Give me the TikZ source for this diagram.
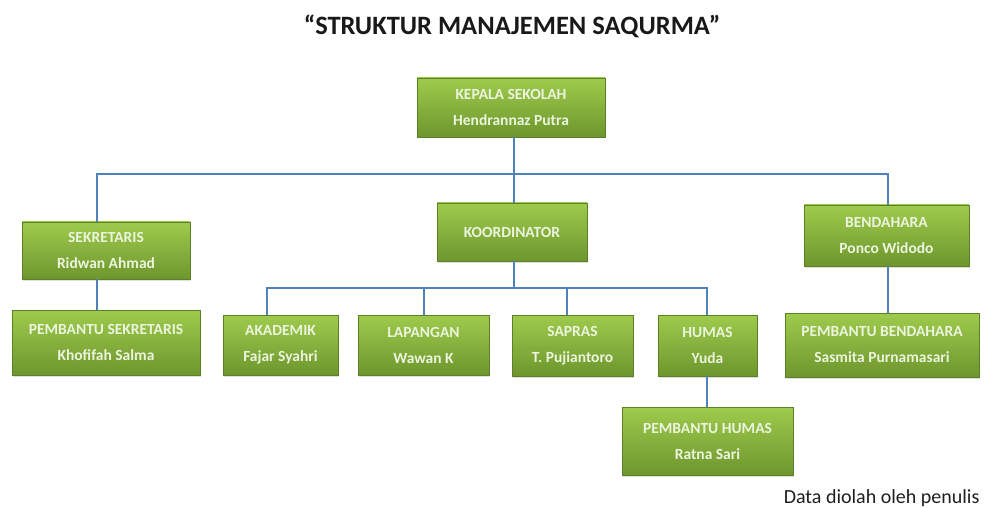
\documentclass[tikz,border=0pt]{standalone}
\usepackage{fontspec}
\setmainfont{Carlito}
\usetikzlibrary{shadows}
\definecolor{lineblue}{RGB}{79,129,189}
\definecolor{gtop}{RGB}{158,203,76}
\definecolor{gbot}{RGB}{110,150,46}
\definecolor{txtc}{RGB}{236,244,222}
\begin{document}
\begin{tikzpicture}[x=1pt,y=-1pt,
  orgbox/.style={rectangle, top color=gtop, bottom color=gbot, draw=gbot!85!black, line width=0.4pt,
    text=txtc, font=\bfseries\fontsize{15.5}{26}\selectfont, align=center, inner sep=0pt,
    drop shadow={opacity=0.25, shadow xshift=1pt, shadow yshift=-1.5pt}},
  conn/.style={draw=lineblue, line width=1.4pt}]
\useasboundingbox[fill=white] (0,0) rectangle (989,508);
\node[font=\bfseries\fontsize{26.5}{30}\selectfont, text=black!90] (title) at (512,26) {“STRUKTUR MANAJEMEN SAQURMA”};

\node[orgbox, minimum width=188pt, minimum height=59pt] (kep) at (511,107.5) {KEPALA SEKOLAH\\Hendrannaz Putra};
\node[orgbox, minimum width=168pt, minimum height=57pt] (sek) at (106,250.5) {SEKRETARIS\\Ridwan Ahmad};
\node[orgbox, minimum width=188pt, minimum height=65pt] (psek) at (106,342.5) {PEMBANTU SEKRETARIS\\Khofifah Salma};
\node[orgbox, minimum width=150pt, minimum height=58pt] (koord) at (512,232) {KOORDINATOR};
\node[orgbox, minimum width=165pt, minimum height=61pt] (bend) at (886.5,235.5) {BENDAHARA\\Ponco Widodo};
\node[orgbox, minimum width=194pt, minimum height=64pt] (pbend) at (882,345) {PEMBANTU BENDAHARA\\Sasmita Purnamasari};
\node[orgbox, minimum width=115pt, minimum height=60pt] (akad) at (280.5,345) {AKADEMIK\\Fajar Syahri};
\node[orgbox, minimum width=131pt, minimum height=60pt] (lap) at (423.5,345) {LAPANGAN\\Wawan K};
\node[orgbox, minimum width=121pt, minimum height=61pt] (sap) at (572.5,345.5) {SAPRAS\\T. Pujiantoro};
\node[orgbox, minimum width=99pt, minimum height=61pt] (hum) at (707.5,345.5) {HUMAS\\Yuda};
\node[orgbox, minimum width=171pt, minimum height=68pt] (phum) at (707.5,441) {PEMBANTU HUMAS\\Ratna Sari};

\node[anchor=base east, font=\fontsize{20}{22}\selectfont, text=black!88] (src) at (983,503) {Data diolah oleh penulis};

\coordinate (j1) at (514,174);
\coordinate (hl) at (97,174);
\coordinate (hr) at (888,174);
\coordinate (j2) at (514,288);
\coordinate (a1) at (267,288);
\coordinate (a2) at (424,288);
\coordinate (a3) at (567,288);
\coordinate (a4) at (707,288);

\draw[conn] (j1 |- kep.south) -- (j1 |- koord.north);
\draw[conn] (hl |- sek.north) -- (hl) -- (hr) -- (hr |- bend.north);
\draw[conn] (hl |- sek.south) -- (hl |- psek.north);
\draw[conn] (hr |- bend.south) -- (hr |- pbend.north);
\draw[conn] (j2 |- koord.south) -- (j2);
\draw[conn] (a1 |- akad.north) -- (a1) -- (a4) -- (a4 |- hum.north);
\draw[conn] (a2) -- (a2 |- lap.north);
\draw[conn] (a3) -- (a3 |- sap.north);
\draw[conn] (a4 |- hum.south) -- (a4 |- phum.north);
\end{tikzpicture}
\end{document}
